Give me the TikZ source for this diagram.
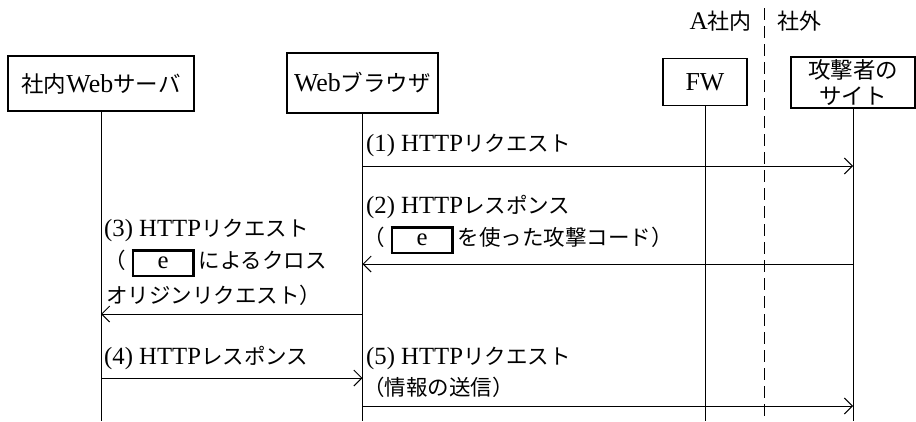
\documentclass[tikz,border=0pt]{standalone}
\usepackage{fontspec}
\setmainfont{Liberation Serif}[Scale=1.15]
\newfontfamily\jp{Noto Sans CJK JP}
\usetikzlibrary{arrows.meta}
\newcommand{\ja}[1]{{\jp #1}}
\newcommand{\eblank}{{\hspace{6pt}\setlength{\fboxrule}{2.4pt}\setlength{\fboxsep}{0pt}%
  \fbox{\makebox[58pt]{\rule[-6pt]{0pt}{23pt}e}}\hspace{4pt}}}

\begin{document}
\begin{tikzpicture}[x=1pt,y=-1pt,
    actor/.style = {shape=rectangle, draw, line width=1.1pt,
      align=center, inner sep=0pt,
      font=\fontsize{22.5}{26}\selectfont},
    msg/.style = {anchor=west, inner sep=0pt,
      font=\fontsize{21.5}{24}\selectfont},
    life/.style = {line width=1pt},
    call/.style = {line width=1pt,
      -{Straight Barb[length=8pt,width=16pt,line width=1pt]}}]
  \useasboundingbox (0,0) rectangle (916,421);

  % zone labels and border
  \node[msg, anchor=east, font=\fontsize{22}{26}\selectfont] (inside) at (752,21) {A\ja{社内}};
  \node[msg, font=\fontsize{22}{26}\selectfont] (outside) at (777,21) {\ja{社外}};
  \coordinate (ztop) at (764,8);
  \coordinate (zbot) at (764,421);
  \draw[life, dash pattern=on 12pt off 6pt] (ztop) -- (zbot);

  % actors
  \node[actor, minimum width=186, minimum height=55] (srv) at (101,83.5) {\ja{社内}Web\ja{サーバ}};
  \node[actor, minimum width=151, minimum height=60] (brw) at (362.5,83) {Web\ja{ブラウザ}};
  \node[actor, minimum width=84, minimum height=47] (fw) at (705,82) {FW};
  \node[actor, minimum width=124, minimum height=51] (atk) at (853,82.5) {\ja{攻撃者の}\\\ja{サイト}};

  % lifelines
  \draw[life] (srv.south) -- (srv.south |- zbot);
  \draw[life] (brw.south) -- (brw.south |- zbot);
  \draw[life] (fw.south) -- (fw.south |- zbot);
  \draw[life] (atk.south) -- (atk.south |- zbot);

  % message rows
  \coordinate (m1) at (0,166);
  \coordinate (m2) at (0,264);
  \coordinate (m3) at (0,314);
  \coordinate (m4) at (0,378);
  \coordinate (m5) at (0,406);

  \draw[call] (brw |- m1) -- (atk |- m1);
  \draw[call] (atk |- m2) -- (brw |- m2);
  \draw[call] (brw |- m3) -- (srv |- m3);
  \draw[call] (srv |- m4) -- (brw |- m4);
  \draw[call] (brw |- m5) -- (atk |- m5);

  % message labels
  \node[msg] (l1) at (366,145) {(1) HTTP\ja{リクエスト}};
  \node[msg] (l2a) at (366,207) {(2) HTTP\ja{レスポンス}};
  \node[msg] (l2b) at (363,240) {\ja{（}\eblank\ja{を使った攻撃コード）}};
  \node[msg] (l3a) at (104,230) {(3) HTTP\ja{リクエスト}};
  \node[msg] (l3b) at (104,263) {\ja{（}\eblank\ja{によるクロス}};
  \node[msg] (l3c) at (106,295) {\ja{オリジンリクエスト）}};
  \node[msg] (l4) at (104,358) {(4) HTTP\ja{レスポンス}};
  \node[msg] (l5a) at (366,358) {(5) HTTP\ja{リクエスト}};
  \node[msg] (l5b) at (363,387) {\ja{（情報の送信）}};
\end{tikzpicture}
\end{document}
